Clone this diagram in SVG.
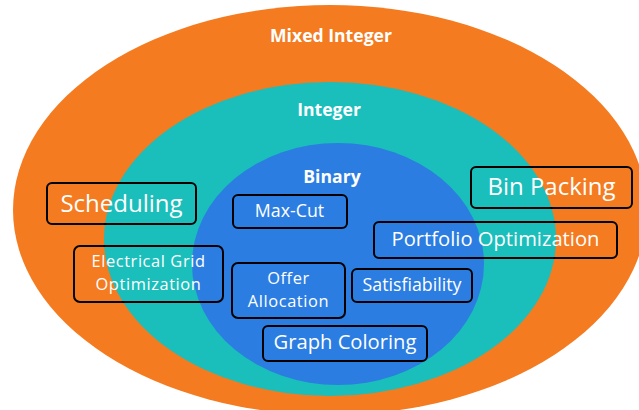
<svg xmlns="http://www.w3.org/2000/svg" width="639" height="410" viewBox="0 0 639 410">
<style>
.box{fill:none;stroke:#000;stroke-width:2}
.t{font-family:"Open Sans","Noto Sans",sans-serif;fill:#fff;text-anchor:middle}
.h{font-weight:bold;font-size:17.6px}
.s{font-size:17.8px}
.m{font-size:16.4px;letter-spacing:0.6px}
</style>
<rect width="639" height="410" fill="#fff"/>
<g id="mixed-integer">
<ellipse cx="330" cy="210" rx="317" ry="205" fill="#F47B20"/>
<text class="t h" x="331" y="42">Mixed Integer</text>
</g>
<g id="integer">
<ellipse cx="330" cy="239" rx="226" ry="157" fill="#1ABEBB"/>
<text class="t h" x="329" y="116">Integer</text>
</g>
<g id="binary">
<ellipse cx="338" cy="264" rx="146" ry="121" fill="#2B7DE1"/>
<text class="t h" x="332" y="183">Binary</text>
</g>
<g id="connectors"></g>
<g id="scheduling">
<rect class="box" x="47" y="183" width="149" height="41" rx="5"/>
<text class="t" x="121.5" y="212" font-size="24">Scheduling</text>
</g>
<g id="bin-packing">
<rect class="box" x="471" y="167" width="161" height="41" rx="5"/>
<text class="t" x="551.5" y="195" font-size="24">Bin Packing</text>
</g>
<g id="max-cut">
<rect class="box" x="233" y="195" width="114" height="33" rx="5"/>
<text class="t s" x="289.5" y="217">Max-Cut</text>
</g>
<g id="portfolio">
<rect class="box" x="374" y="222" width="243" height="36" rx="5"/>
<text class="t" x="495.5" y="246" font-size="20.2">Portfolio Optimization</text>
</g>
<g id="electrical-grid">
<rect class="box" x="74" y="246" width="149" height="56" rx="6"/>
<text class="t m" x="148.5" y="267">Electrical Grid</text>
<text class="t m" x="148.5" y="289.5">Optimization</text>
</g>
<g id="offer-allocation">
<rect class="box" x="232" y="263" width="113" height="55" rx="6"/>
<text class="t m" x="288.5" y="284">Offer</text>
<text class="t m" x="288.5" y="306.5">Allocation</text>
</g>
<g id="satisfiability">
<rect class="box" x="352" y="269" width="120" height="33" rx="5"/>
<text class="t s" x="412" y="291">Satisfiability</text>
</g>
<g id="graph-coloring">
<rect class="box" x="263" y="326" width="164" height="35" rx="5"/>
<text class="t" x="345" y="349" font-size="20.2">Graph Coloring</text>
</g>
</svg>
